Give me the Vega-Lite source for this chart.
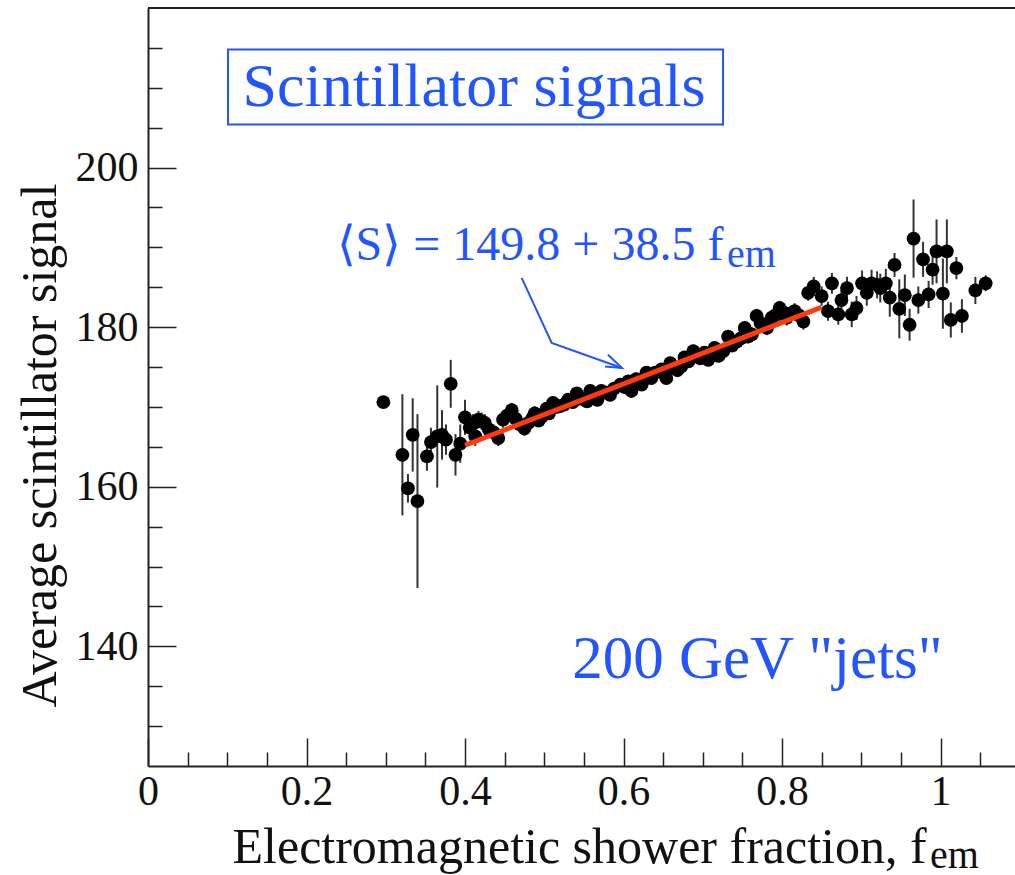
{
  "$schema": "https://vega.github.io/schema/vega-lite/v6.json",
  "width": 867,
  "height": 758,
  "autosize": {"type": "none"},
  "padding": {"left": 148, "top": 8, "right": 0, "bottom": 109},
  "background": "white",
  "config": {
    "view": {"stroke": null},
    "font": "Liberation Serif",
    "axis": {
      "grid": false,
      "domainColor": "#222222",
      "domainWidth": 2,
      "tickColor": "#222222",
      "tickWidth": 1.5,
      "labelFont": "Liberation Serif",
      "labelFontSize": 42,
      "labelColor": "#111111",
      "labelFlush": false,
      "labelOverlap": false,
      "labelBound": false,
      "titleFont": "Liberation Serif",
      "titleFontSize": 50,
      "titleFontWeight": "normal",
      "titleColor": "#111111"
    }
  },
  "datasets": {
    "points": [
      {"f": 0.297, "s": 170.6, "e": 0},
      {"f": 0.321, "s": 164.0, "e": 7.6},
      {"f": 0.328, "s": 159.8, "e": 1.8},
      {"f": 0.334, "s": 166.5, "e": 4.6},
      {"f": 0.340, "s": 158.2, "e": 10.9},
      {"f": 0.352, "s": 163.8, "e": 1.8},
      {"f": 0.357, "s": 165.6, "e": 1.8},
      {"f": 0.365, "s": 166.3, "e": 6.4},
      {"f": 0.371, "s": 166.5, "e": 3.1},
      {"f": 0.376, "s": 165.9, "e": 1.9},
      {"f": 0.382, "s": 172.9, "e": 3.0},
      {"f": 0.388, "s": 164.0, "e": 2.6},
      {"f": 0.394, "s": 165.4, "e": 2.4},
      {"f": 0.400, "s": 168.7, "e": 2.2},
      {"f": 0.406, "s": 167.4, "e": 1.2},
      {"f": 0.410, "s": 167.9, "e": 1.2},
      {"f": 0.413, "s": 166.3, "e": 1.2},
      {"f": 0.417, "s": 168.4, "e": 1.1},
      {"f": 0.421, "s": 168.2, "e": 1.1},
      {"f": 0.425, "s": 168.0, "e": 1.1},
      {"f": 0.430, "s": 167.2, "e": 1.0},
      {"f": 0.436, "s": 166.8, "e": 1.0},
      {"f": 0.442, "s": 166.1, "e": 1.0},
      {"f": 0.448, "s": 168.4, "e": 1.0},
      {"f": 0.453, "s": 168.9, "e": 1.0},
      {"f": 0.459, "s": 169.6, "e": 0.9},
      {"f": 0.464, "s": 168.5, "e": 0.9},
      {"f": 0.469, "s": 167.8, "e": 0.9},
      {"f": 0.475, "s": 167.3, "e": 0.9},
      {"f": 0.480, "s": 168.0, "e": 0.9},
      {"f": 0.485, "s": 168.6, "e": 0.9},
      {"f": 0.488, "s": 169.2, "e": 0.9},
      {"f": 0.493, "s": 168.3, "e": 0.8},
      {"f": 0.497, "s": 168.8, "e": 0.8},
      {"f": 0.503, "s": 169.8, "e": 0.8},
      {"f": 0.506, "s": 169.2, "e": 0.8},
      {"f": 0.511, "s": 170.5, "e": 0.8},
      {"f": 0.516, "s": 170.0, "e": 0.8},
      {"f": 0.520, "s": 170.1, "e": 0.8},
      {"f": 0.525, "s": 170.3, "e": 0.8},
      {"f": 0.530, "s": 170.9, "e": 0.8},
      {"f": 0.536, "s": 170.6, "e": 0.8},
      {"f": 0.541, "s": 171.7, "e": 0.8},
      {"f": 0.547, "s": 171.0, "e": 0.8},
      {"f": 0.554, "s": 170.7, "e": 0.8},
      {"f": 0.558, "s": 172.0, "e": 0.8},
      {"f": 0.562, "s": 171.3, "e": 0.8},
      {"f": 0.567, "s": 170.9, "e": 0.8},
      {"f": 0.572, "s": 172.0, "e": 0.8},
      {"f": 0.578, "s": 171.8, "e": 0.8},
      {"f": 0.583, "s": 171.5, "e": 0.8},
      {"f": 0.588, "s": 172.3, "e": 0.8},
      {"f": 0.596, "s": 172.8, "e": 0.8},
      {"f": 0.601, "s": 172.5, "e": 0.8},
      {"f": 0.606, "s": 173.2, "e": 0.8},
      {"f": 0.610, "s": 172.0, "e": 0.8},
      {"f": 0.616, "s": 173.5, "e": 0.8},
      {"f": 0.623, "s": 172.8, "e": 0.8},
      {"f": 0.629, "s": 174.3, "e": 0.8},
      {"f": 0.635, "s": 173.6, "e": 0.8},
      {"f": 0.640, "s": 174.3, "e": 0.8},
      {"f": 0.648, "s": 174.7, "e": 0.8},
      {"f": 0.654, "s": 173.6, "e": 0.8},
      {"f": 0.659, "s": 175.5, "e": 0.8},
      {"f": 0.663, "s": 174.9, "e": 0.8},
      {"f": 0.668, "s": 174.6, "e": 0.8},
      {"f": 0.673, "s": 175.1, "e": 0.8},
      {"f": 0.677, "s": 176.2, "e": 0.8},
      {"f": 0.682, "s": 175.7, "e": 0.8},
      {"f": 0.688, "s": 177.0, "e": 0.8},
      {"f": 0.693, "s": 176.4, "e": 0.8},
      {"f": 0.697, "s": 176.1, "e": 0.8},
      {"f": 0.702, "s": 176.8, "e": 0.8},
      {"f": 0.707, "s": 175.9, "e": 0.8},
      {"f": 0.711, "s": 176.5, "e": 0.8},
      {"f": 0.715, "s": 177.4, "e": 0.8},
      {"f": 0.720, "s": 176.4, "e": 0.8},
      {"f": 0.726, "s": 177.0, "e": 0.8},
      {"f": 0.732, "s": 178.8, "e": 0.8},
      {"f": 0.737, "s": 177.7, "e": 0.8},
      {"f": 0.743, "s": 178.2, "e": 0.8},
      {"f": 0.748, "s": 178.6, "e": 0.8},
      {"f": 0.753, "s": 179.9, "e": 0.8},
      {"f": 0.757, "s": 178.8, "e": 0.8},
      {"f": 0.762, "s": 179.1, "e": 0.9},
      {"f": 0.768, "s": 181.4, "e": 0.9},
      {"f": 0.773, "s": 180.5, "e": 0.9},
      {"f": 0.776, "s": 180.3, "e": 0.9},
      {"f": 0.781, "s": 179.9, "e": 0.9},
      {"f": 0.787, "s": 181.2, "e": 0.9},
      {"f": 0.792, "s": 181.5, "e": 0.9},
      {"f": 0.797, "s": 182.4, "e": 0.9},
      {"f": 0.801, "s": 181.9, "e": 0.9},
      {"f": 0.806, "s": 181.2, "e": 1.0},
      {"f": 0.811, "s": 181.7, "e": 1.0},
      {"f": 0.816, "s": 182.0, "e": 1.0},
      {"f": 0.821, "s": 181.5, "e": 1.0},
      {"f": 0.827, "s": 180.7, "e": 1.0},
      {"f": 0.833, "s": 184.3, "e": 1.0},
      {"f": 0.840, "s": 185.1, "e": 1.2},
      {"f": 0.850, "s": 183.9, "e": 1.2},
      {"f": 0.858, "s": 182.0, "e": 1.2},
      {"f": 0.863, "s": 185.5, "e": 1.3},
      {"f": 0.871, "s": 181.6, "e": 1.3},
      {"f": 0.875, "s": 183.4, "e": 1.3},
      {"f": 0.882, "s": 184.9, "e": 1.4},
      {"f": 0.888, "s": 181.6, "e": 1.6},
      {"f": 0.894, "s": 182.4, "e": 1.5},
      {"f": 0.901, "s": 185.5, "e": 1.6},
      {"f": 0.907, "s": 184.3, "e": 1.6},
      {"f": 0.913, "s": 185.5, "e": 1.7},
      {"f": 0.920, "s": 185.3, "e": 1.7},
      {"f": 0.924, "s": 184.9, "e": 1.8},
      {"f": 0.931, "s": 185.5, "e": 1.8},
      {"f": 0.936, "s": 183.7, "e": 2.4},
      {"f": 0.942, "s": 187.8, "e": 1.5},
      {"f": 0.948, "s": 182.3, "e": 3.7},
      {"f": 0.955, "s": 184.0, "e": 2.6},
      {"f": 0.961, "s": 180.3, "e": 2.0},
      {"f": 0.966, "s": 191.1, "e": 4.9},
      {"f": 0.972, "s": 183.4, "e": 1.7},
      {"f": 0.978, "s": 188.5, "e": 2.2},
      {"f": 0.985, "s": 184.1, "e": 1.7},
      {"f": 0.990, "s": 187.2, "e": 1.9},
      {"f": 0.995, "s": 189.5, "e": 4.0},
      {"f": 1.003, "s": 184.2, "e": 4.4},
      {"f": 1.008, "s": 189.5, "e": 4.0},
      {"f": 1.013, "s": 180.9, "e": 2.2},
      {"f": 1.020, "s": 187.4, "e": 1.4},
      {"f": 1.027, "s": 181.4, "e": 2.1},
      {"f": 1.044, "s": 184.6, "e": 1.7},
      {"f": 1.057, "s": 185.5, "e": 1.0}
    ],
    "fit": [
      {"f": 0.40, "s": 165.2},
      {"f": 0.85, "s": 182.5}
    ],
    "box": [
      {"f": 0.101, "f2": 0.7256, "s": 205.4, "s2": 214.8}
    ],
    "arrow": [
      {"part": "shaft", "o": 1, "f": 0.4715, "s": 186.17},
      {"part": "shaft", "o": 2, "f": 0.5094, "s": 178.02},
      {"part": "shaft", "o": 3, "f": 0.5981, "s": 174.88},
      {"part": "head", "o": 1, "f": 0.5804, "s": 176.55},
      {"part": "head", "o": 2, "f": 0.5981, "s": 174.88},
      {"part": "head", "o": 3, "f": 0.5767, "s": 175.08}
    ],
    "labels": [
      {"text": "Scintillator signals", "f": 0.4114, "s": 207.69, "size": 62},
      {"text": "200 GeV \"jets\"", "f": 0.769, "s": 136.05, "size": 61},
      {"text": "⟨S⟩ = 149.8 + 38.5 f", "f": 0.482, "s": 188.46, "size": 48},
      {"text": "em", "f": 0.7615, "s": 187.5, "size": 40}
    ],
    "sub": [
      {"text": "em", "f": 0.9868, "s": 112.23}
    ],
    "frame": [
      {"f": 0, "f2": 1.094, "s": 220}
    ]
  },
  "encoding": {
    "x": {
      "field": "f",
      "type": "quantitative",
      "scale": {"domain": [0, 1.094], "nice": false, "zero": false},
      "axis": {
        "title": "Electromagnetic shower fraction, f",
        "titleAlign": "left",
        "titleAnchor": null,
        "titleX": 84,
        "titleY": 96,
        "titleBaseline": "alphabetic",
        "values": [0, 0.05, 0.1, 0.15, 0.2, 0.25, 0.3, 0.35, 0.4, 0.45, 0.5, 0.55, 0.6, 0.65, 0.7, 0.75, 0.8, 0.85, 0.9, 0.95, 1, 1.05],
        "format": "~g",
        "labelExpr": "abs(datum.value*5 - round(datum.value*5)) < 0.001 ? datum.label : ''",
        "tickSize": {"condition": {"test": "abs(datum.value*5 - round(datum.value*5)) < 0.001", "value": -28}, "value": -14},
        "labelPadding": 33
      }
    },
    "y": {
      "field": "s",
      "type": "quantitative",
      "scale": {"domain": [125, 220], "nice": false, "zero": false},
      "axis": {
        "title": "Average scintillator signal",
        "titleAngle": -90,
        "titleAlign": "center",
        "titleAnchor": null,
        "titleX": -93,
        "titleY": 437,
        "titleBaseline": "alphabetic",
        "values": [130, 135, 140, 145, 150, 155, 160, 165, 170, 175, 180, 185, 190, 195, 200, 205, 210, 215],
        "format": "d",
        "labelExpr": "datum.value % 20 == 0 ? datum.label : ''",
        "tickSize": {"condition": {"test": "datum.value % 20 == 0", "value": -28}, "value": -14},
        "labelPadding": 38
      }
    }
  },
  "layer": [
    {
      "data": {"name": "points"},
      "mark": {"type": "errorbar", "color": "#333333", "thickness": 2},
      "encoding": {
        "yError": {"field": "e"}
      }
    },
    {
      "data": {"name": "points"},
      "mark": {"type": "circle", "color": "black", "opacity": 1, "size": 190}
    },
    {
      "data": {"name": "fit"},
      "mark": {"type": "line", "color": "#ff3a0c", "strokeWidth": 5},
      "encoding": {}
    },
    {
      "data": {"name": "box"},
      "mark": {"type": "rect", "fill": null, "fillOpacity": 0, "stroke": "#2255ff", "strokeWidth": 2},
      "encoding": {
        "x2": {"field": "f2"},
        "y2": {"field": "s2"}
      }
    },
    {
      "data": {"name": "arrow"},
      "mark": {"type": "line", "color": "#2255ff", "strokeWidth": 2},
      "encoding": {
        "detail": {"field": "part"},
        "order": {"field": "o"}
      }
    },
    {
      "data": {"name": "labels"},
      "mark": {"type": "text", "color": "#2255ff", "font": "Liberation Serif", "align": "center", "baseline": "alphabetic"},
      "encoding": {
        "text": {"field": "text"},
        "size": {"field": "size", "type": "quantitative", "scale": null}
      }
    },
    {
      "data": {"name": "sub"},
      "mark": {"type": "text", "color": "#111111", "font": "Liberation Serif", "fontSize": 40, "align": "left", "baseline": "alphabetic"},
      "encoding": {
        "text": {"field": "text"}
      }
    },
    {
      "data": {"name": "frame"},
      "mark": {"type": "rule", "color": "#222222", "strokeWidth": 2},
      "encoding": {
        "x2": {"field": "f2"}
      }
    }
  ]
}
